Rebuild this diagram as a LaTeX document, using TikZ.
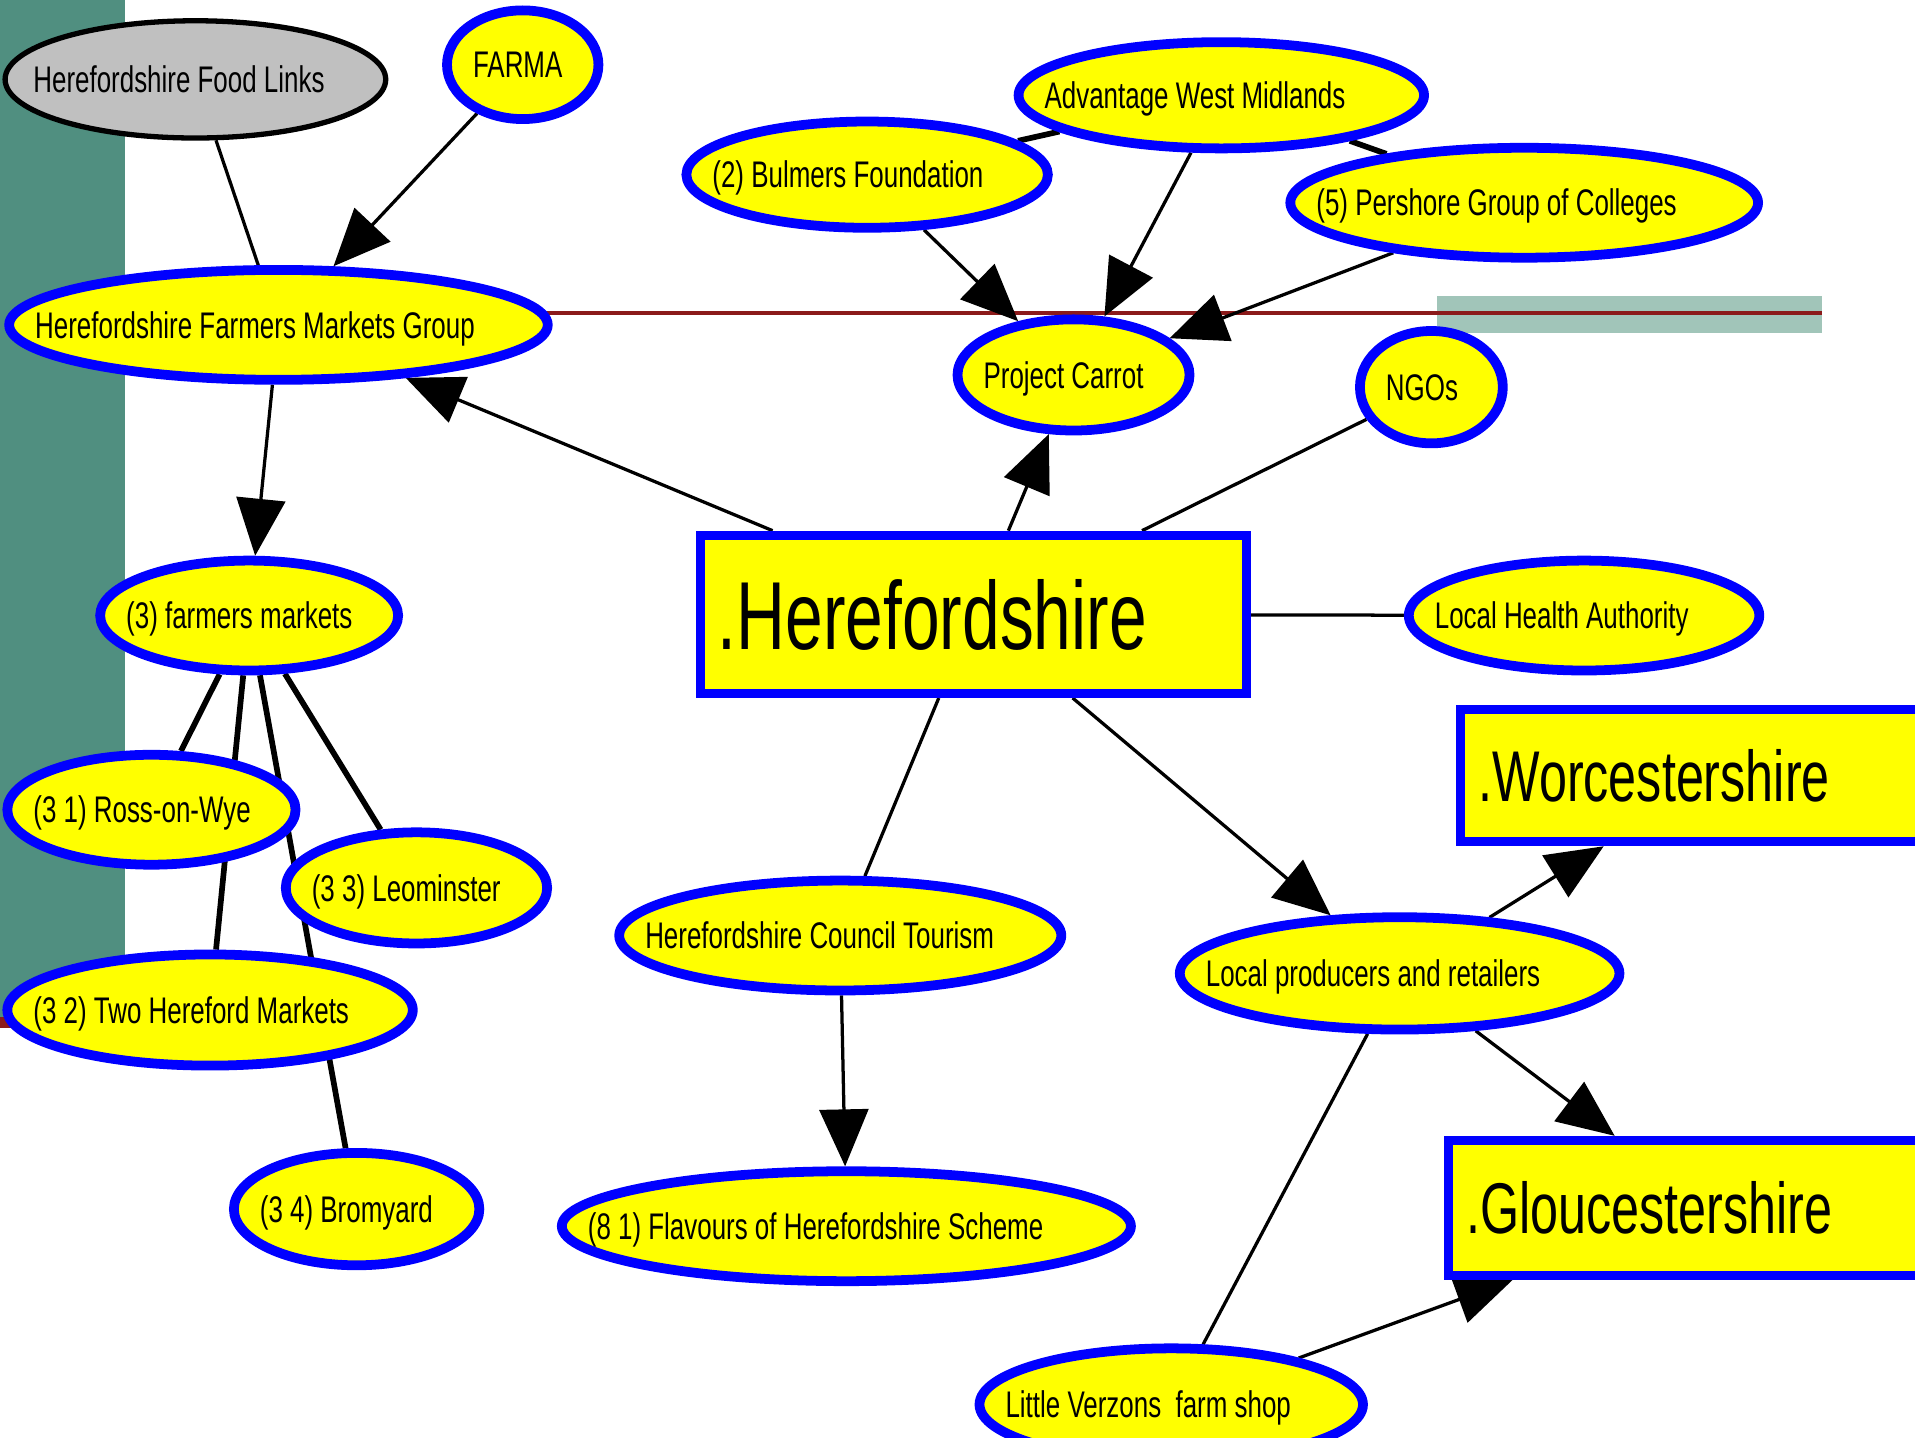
\documentclass[tikz,border=0pt]{standalone}
\usepackage{fontspec}
\setmainfont{Liberation Sans}[FakeStretch=0.7]
\usetikzlibrary{shapes.geometric, arrows.meta}
\newcommand{\orgfont}{\fontsize{18.2pt}{20pt}\selectfont}
\newcommand{\bigfont}{\fontsize{47.5pt}{50pt}\selectfont}
\newcommand{\countyfont}{\fontsize{35.3pt}{38pt}\selectfont}
\definecolor{barteal}{HTML}{508F80}
\definecolor{paleteal}{HTML}{A1C5B9}
\definecolor{darkred}{HTML}{8B1A1A}
\definecolor{orgyellow}{RGB}{255,255,0}
\definecolor{orgblue}{RGB}{0,0,255}
\definecolor{orggrey}{RGB}{192,192,192}
\pgfdeclarelayer{bg}
\pgfdeclarelayer{edges}
\pgfsetlayers{bg,edges,main}
\tikzset{
>={Triangle[length=28pt, width=24pt]}, % big filled arrow heads
org/.style={ellipse, draw=orgblue, fill=orgyellow, line width=4.8pt, inner sep=0pt, minimum height=54pt}, % yellow partners
grey org/.style={ellipse, draw=black, fill=orggrey, line width=2.6pt, inner sep=0pt}, % the one grey partner
county/.style={rectangle, draw=orgblue, fill=orgyellow, line width=4.5pt, inner sep=0pt}, % county boxes
lbl/.style={anchor=west, xshift=15pt, inner sep=0pt, text height=13pt, text depth=0pt, font=\orgfont}, % text starts near the left rim
county lbl/.style={anchor=west, xshift=10.8pt, inner sep=0pt, text height=25.3pt, text depth=0pt, font=\countyfont}, % text in the county boxes
big lbl/.style={county lbl, text height=35pt, font=\bigfont}, % the main county
link/.style={line width=1.6pt}, % plain connectors
tie/.style={line width=2.8pt}, % heavy connectors
}

\begin{document}
\begin{tikzpicture}[x=0.6pt, y=-0.6pt]
    \useasboundingbox (0,0) rectangle (1568,1177);
    % top row
    \node[grey org, minimum width=187pt, minimum height=57.6pt, label={[lbl]left:Herefordshire Food Links}] (links) at (160,65) {};
    \node[org, minimum width=74.4pt, minimum height=53.4pt, label={[lbl]left:FARMA}] (farma) at (428,53) {};
    \node[org, minimum width=264.6pt, label={[lbl]left:Herefordshire Farmers Markets Group}] (hfmg) at (228,266) {};
    \node[org, minimum width=177.6pt, minimum height=52.2pt, label={[lbl]left:(2) Bulmers Foundation}] (bulmers) at (710,143) {};
    \node[org, minimum width=199.2pt, minimum height=52.2pt, label={[lbl]left:Advantage West Midlands}] (awm) at (1000,78) {};
    \node[org, minimum width=229.8pt, label={[lbl]left:(5) Pershore Group of Colleges}] (pershore) at (1248,166) {};
    \node[org, minimum width=114pt, minimum height=54.6pt, label={[lbl]left:Project Carrot}] (carrot) at (879,307) {};
    \node[org, minimum width=70.2pt, minimum height=55.2pt, label={[lbl]left:NGOs}] (ngos) at (1172,317) {};
    % middle
    \node[county, minimum width=268.5pt, minimum height=77.7pt, label={[big lbl]left:.Herefordshire}] (here) at (797,503) {};
    \node[org, minimum width=172.2pt, label={[lbl]left:Local Health Authority}] (lha) at (1297,504) {};
    \node[county, minimum width=252pt, minimum height=65pt, label={[county lbl]left:.Worcestershire}] (worcs) at (1406,635) {};
    \node[county, minimum width=257pt, minimum height=66.3pt, label={[county lbl]left:.Gloucestershire}] (glouc) at (1400,989) {};
    % markets
    \node[org, minimum width=146.4pt, label={[lbl]left:(3) farmers markets}] (fm) at (204,504) {};
    \node[org, minimum width=141.6pt, label={[lbl]left:(3 1) Ross-on-Wye}] (ross) at (124,663) {};
    \node[org, minimum width=128.4pt, minimum height=54.6pt, label={[lbl]left:(3 3) Leominster}] (leo) at (341,727) {};
    \node[org, minimum width=199.2pt, minimum height=54.6pt, label={[lbl]left:(3 2) Two Hereford Markets}] (twoh) at (172,827) {};
    \node[org, minimum width=120.6pt, minimum height=55.2pt, label={[lbl]left:(3 4) Bromyard}] (bromyard) at (292,990) {};
    % bottom
    \node[org, minimum width=217.2pt, label={[lbl]left:Herefordshire Council Tourism}] (council) at (688,766) {};
    \node[org, minimum width=279.6pt, label={[lbl]left:(8 1) Flavours of Herefordshire Scheme}] (flavours) at (693,1004) {};
    \node[org, minimum width=216pt, minimum height=55.2pt, label={[lbl]left:Local producers and retailers}] (lp) at (1146,797) {};
    \node[org, minimum width=188.4pt, minimum height=55.2pt, label={[lbl]left:Little Verzons\ \ farm shop}] (lv) at (959,1150) {};

    \begin{pgfonlayer}{bg}
        \fill[barteal] (0,0) rectangle (102,833);
        \fill[darkred] (0,833) rectangle (102,842);
        \fill[paleteal] (1177,242) rectangle (1492,273);
        \draw[darkred, line width=2pt] (300,256) -- (1492,256);
    \end{pgfonlayer}

    \begin{pgfonlayer}{edges}
        \draw[link]
            (links) edge (hfmg)
            (farma) edge[->] (hfmg)
            (bulmers) edge[->] (carrot)
            (awm) edge[->] (carrot)
            (pershore) edge[->] (carrot)
            (here) edge[->] (hfmg)
            (here) edge[->] (carrot)
            (here) edge (ngos)
            (here) edge (lha)
            (here) edge (council)
            (here) edge[->] (lp)
            (hfmg) edge[->] (fm)
            (council) edge[->] (flavours)
            (lp) edge[->] (worcs)
            (lp) edge[->] (glouc)
            (lp) edge (lv)
            (lv) edge[->] (glouc)
            ;
        \draw[tie]
            (awm) edge (bulmers)
            (awm) edge (pershore)
            (fm) edge (ross)
            (fm) edge (twoh)
            (fm) edge (leo)
            (fm) edge (bromyard)
            ;
    \end{pgfonlayer}
\end{tikzpicture}
\end{document}
